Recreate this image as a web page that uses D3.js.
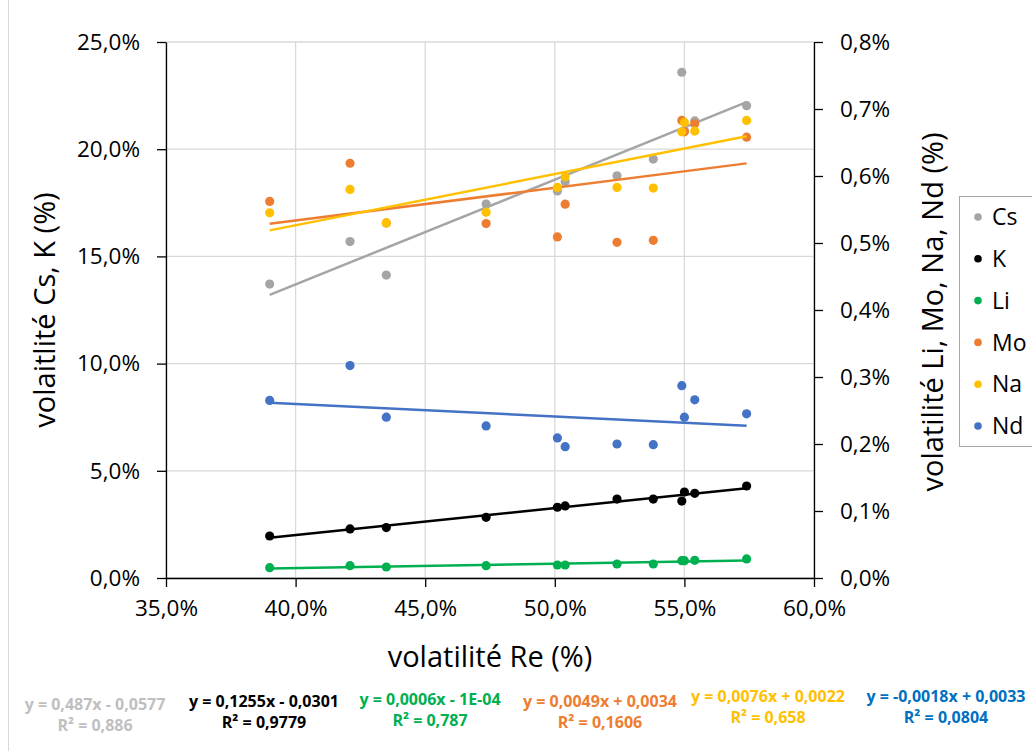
<!DOCTYPE html>
<html>
<head>
<meta charset="utf-8">
<script src="https://cdn.jsdelivr.net/npm/d3@7"></script>
<style>
  html, body { margin: 0; padding: 0; background: #fff; }
  svg { display: block; font-family: "Open Sans", "Noto Sans", sans-serif; }
</style>
</head>
<body>
<svg id="chart" width="1032" height="751"></svg>
<script>
// ---- data ----
const reVolatility = [39.0, 42.1, 43.5, 47.35, 50.1, 50.4, 52.4, 53.8, 54.9, 55.0, 55.4, 57.4];
const csValues = [13.71, 15.69, 14.13, 17.44, 18.05, 18.48, 18.76, 19.54, 23.59, 20.86, 21.32, 22.03];
const kValues  = [1.96, 2.29, 2.35, 2.83, 3.30, 3.36, 3.68, 3.68, 3.59, 4.01, 3.95, 4.29];
const liValues = [0.0154, 0.0184, 0.0164, 0.0184, 0.0194, 0.0194, 0.0209, 0.0209, 0.0259, 0.0259, 0.0264, 0.0284];
const moValues = [0.562, 0.619, 0.530, 0.529, 0.509, 0.558, 0.501, 0.504, 0.683, 0.666, 0.678, 0.658];
const naValues = [0.545, 0.580, 0.530, 0.546, 0.583, 0.599, 0.583, 0.582, 0.666, 0.680, 0.667, 0.683];
const ndValues = [0.265, 0.317, 0.240, 0.227, 0.209, 0.196, 0.200, 0.199, 0.287, 0.240, 0.266, 0.245];

const seriesNames = ["Cs", "K", "Li", "Mo", "Na", "Nd"];
const seriesAxis  = ["left", "left", "right", "right", "right", "right"];
const equationTexts = ["y = 0,487x - 0,0577", "y = 0,1255x - 0,0301", "y = 0,0006x - 1E-04",
                       "y = 0,0049x + 0,0034", "y = 0,0076x + 0,0022", "y = -0,0018x + 0,0033"];
const r2Texts = ["R² = 0,886", "R² = 0,9779", "R² = 0,787", "R² = 0,1606", "R² = 0,658", "R² = 0,0804"];

const xTicks = [35, 40, 45, 50, 55, 60];
const leftTicks = [0, 5, 10, 15, 20, 25];
const rightTicks = [0, 0.1, 0.2, 0.3, 0.4, 0.5, 0.6, 0.7, 0.8];

const xTitle = "volatilité Re (%)";
const leftTitle = "volaitlité Cs, K (%)";
const rightTitle = "volatilité Li, Mo, Na, Nd (%)";

// ---- styles / layout ----
const markerColors = ["#A5A5A5", "#000000", "#00B050", "#ED7D31", "#FFC000", "#4472C4"];
const labelColors  = ["#BFBFBF", "#000000", "#00B050", "#ED7D31", "#FFC000", "#0070C0"];
const labelLayout = [
  {x: 95, y: 704}, {x: 264, y: 701}, {x: 430, y: 699},
  {x: 600, y: 701}, {x: 768, y: 696}, {x: 946, y: 696}
];

const allValues = [csValues, kValues, liValues, moValues, naValues, ndValues];
const series = seriesNames.map((name, i) => ({
  name, axis: seriesAxis[i], color: markerColors[i], labelColor: labelColors[i],
  points: reVolatility.map((x, j) => ({x, y: allValues[i][j]}))
}));

const svg = d3.select("#chart");
const L = 166, R = 814, T = 42, B = 578;

const x = d3.scaleLinear().domain([35, 60]).range([L, R]);
const yL = d3.scaleLinear().domain([0, 25]).range([B, T]);
const yR = d3.scaleLinear().domain([0, 0.8]).range([B, T]);

const fmt = d => d3.format(".1f")(d).replace(".", ",") + "%";

// chart border (outer frame of the original chart object)
svg.append("line").attr("x1", 8.5).attr("x2", 8.5).attr("y1", 0).attr("y2", 751)
  .attr("stroke", "#D9D9D9").attr("stroke-width", 1);

// gridlines
const grid = svg.append("g");
grid.selectAll(".vg").data(xTicks).join("line")
  .attr("x1", d => x(d)).attr("x2", d => x(d)).attr("y1", T).attr("y2", B)
  .attr("stroke", "#D9D9D9").attr("stroke-width", 1.3);
grid.selectAll(".hg").data(leftTicks).join("line")
  .attr("x1", L).attr("x2", R).attr("y1", d => yL(d)).attr("y2", d => yL(d))
  .attr("stroke", "#D9D9D9").attr("stroke-width", 1.3);

// axes
const tickLen = 9;
const axX = svg.append("g").attr("transform", `translate(0,${B})`)
  .call(d3.axisBottom(x).tickValues(xTicks).tickFormat(fmt).tickSizeInner(tickLen).tickSizeOuter(0).tickPadding(13));
const axL = svg.append("g").attr("transform", `translate(${L},0)`)
  .call(d3.axisLeft(yL).tickValues(leftTicks).tickFormat(fmt).tickSizeInner(tickLen).tickSizeOuter(0).tickPadding(17));
const axR = svg.append("g").attr("transform", `translate(${R},0)`)
  .call(d3.axisRight(yR).tickValues(rightTicks).tickFormat(fmt).tickSizeInner(tickLen).tickSizeOuter(0).tickPadding(17));
[axX, axL, axR].forEach(a => {
  a.select(".domain").attr("stroke", "#000").attr("stroke-width", 1.3);
  a.selectAll(".tick line").attr("stroke", "#000").attr("stroke-width", 1.3);
  a.selectAll(".tick text").attr("font-family", "'Open Sans', sans-serif")
    .attr("font-size", 22.5).attr("fill", "#000");
});

// axis titles
svg.append("text").attr("x", (L + R) / 2).attr("y", 667).attr("text-anchor", "middle")
  .attr("font-size", 29).attr("fill", "#000").text(xTitle);
svg.append("text").attr("transform", `translate(55,${(T + B) / 2}) rotate(-90)`)
  .attr("text-anchor", "middle").attr("font-size", 29).attr("fill", "#000").text(leftTitle);
svg.append("text").attr("transform", `translate(943,312) rotate(-90)`)
  .attr("text-anchor", "middle").attr("font-size", 29).attr("fill", "#000").text(rightTitle);

// linear regression (trendline)
function fit(pts) {
  const mx = d3.mean(pts, p => p.x), my = d3.mean(pts, p => p.y);
  const sxy = d3.sum(pts, p => (p.x - mx) * (p.y - my));
  const sxx = d3.sum(pts, p => (p.x - mx) ** 2);
  const m = sxy / sxx;
  return {m, b: my - m * mx};
}

// series: markers + trendlines
series.forEach(s => {
  const ys = s.axis === "left" ? yL : yR;
  const g = svg.append("g");
  g.selectAll("circle").data(s.points).join("circle")
    .attr("cx", d => x(d.x)).attr("cy", d => ys(d.y)).attr("r", 4.6)
    .attr("fill", s.color);
  const f = fit(s.points);
  const [x0, x1] = d3.extent(s.points, p => p.x);
  g.append("line")
    .attr("x1", x(x0)).attr("y1", ys(f.m * x0 + f.b))
    .attr("x2", x(x1)).attr("y2", ys(f.m * x1 + f.b))
    .attr("stroke", s.color).attr("stroke-width", 2.5);
});

// legend
const lg = svg.append("g");
lg.append("rect").attr("x", 959.5).attr("y", 196.5).attr("width", 100).attr("height", 250)
  .attr("fill", "#fff").attr("stroke", "#A6A6A6").attr("stroke-width", 1);
const legendY = d3.scalePoint().domain(seriesNames).range([217, 426]);
series.forEach(s => {
  lg.append("circle").attr("cx", 978).attr("cy", legendY(s.name)).attr("r", 3.8).attr("fill", s.color);
  lg.append("text").attr("x", 992).attr("y", legendY(s.name)).attr("dy", "0.36em")
    .attr("font-size", 23).attr("fill", "#000").text(s.name);
});

// equation labels
series.forEach((s, i) => {
  const t = svg.append("text").attr("text-anchor", "middle")
    .attr("font-size", 16).attr("font-weight", "bold").attr("fill", s.labelColor);
  t.append("tspan").attr("x", labelLayout[i].x).attr("y", labelLayout[i].y).attr("dy", "0.35em").text(equationTexts[i]);
  t.append("tspan").attr("x", labelLayout[i].x).attr("y", labelLayout[i].y + 21).attr("dy", "0.35em").text(r2Texts[i]);
});
</script>
</body>
</html>
